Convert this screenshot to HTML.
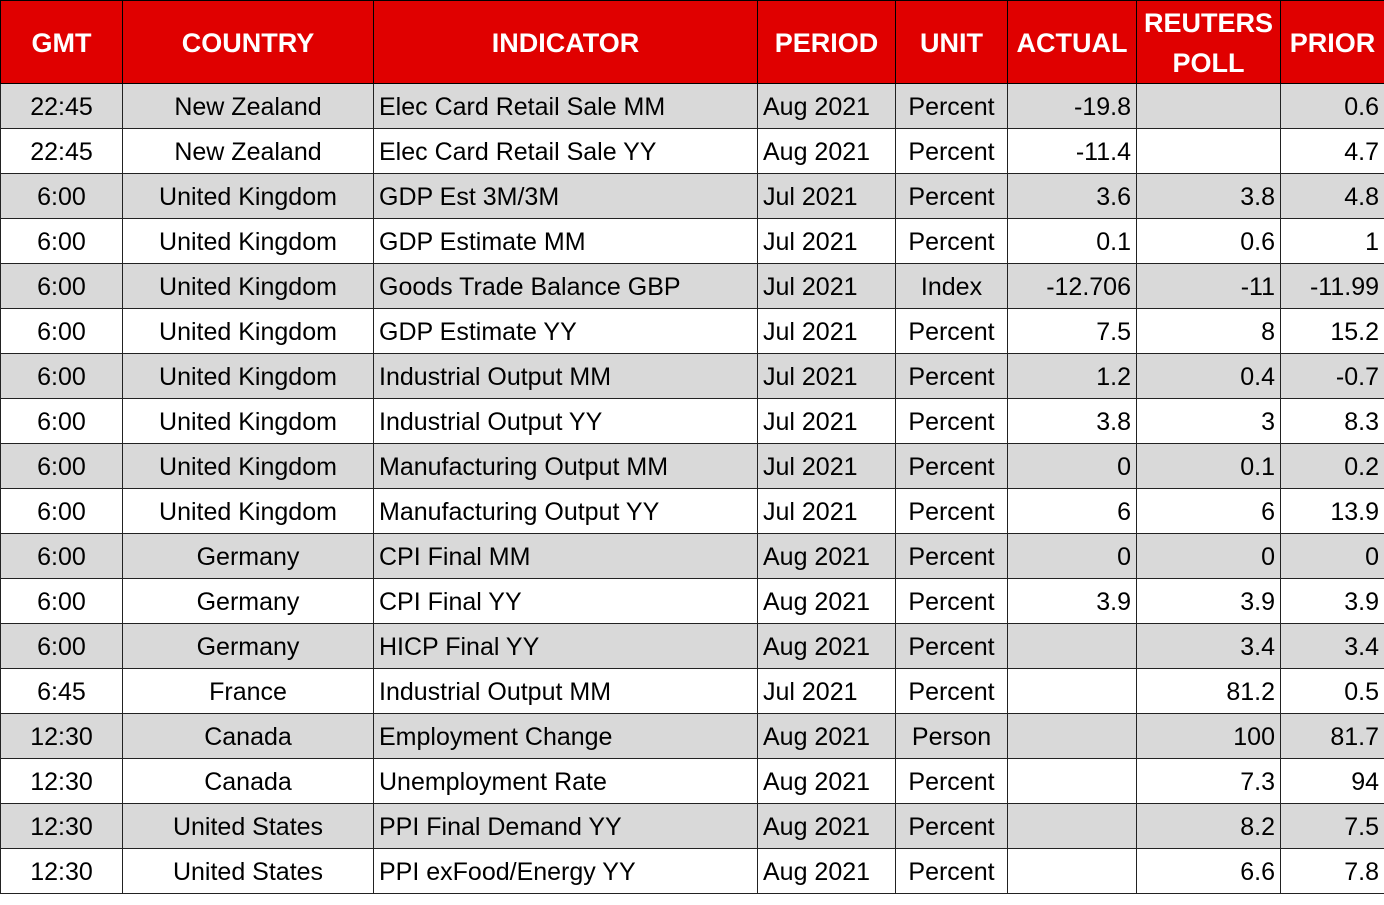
<!DOCTYPE html>
<html><head><meta charset="utf-8">
<style>
html,body{margin:0;padding:0;background:#fff;width:1384px;height:905px;overflow:hidden;}
table{border-collapse:collapse;table-layout:fixed;width:1384px;font-family:"Liberation Sans",sans-serif;}
th{background:#e00000;color:#fff;font-weight:bold;font-size:27px;height:75px;border:1px solid #000;padding:2px 4px 0 4px;line-height:40px;box-sizing:border-box;}
td{height:45px;border:1px solid #222;font-size:25px;color:#000;padding:3px 5px 0 5px;white-space:nowrap;overflow:hidden;box-sizing:border-box;}
tbody tr:nth-child(odd) td{background:#d9d9d9;}
.c{text-align:center}.l{text-align:left}.r{text-align:right}
</style></head><body>
<table>
<colgroup><col style="width:122px"><col style="width:251px"><col style="width:384px"><col style="width:138px"><col style="width:112px"><col style="width:129px"><col style="width:144px"><col style="width:104px"></colgroup>
<thead><tr style="height:77px">
<th>GMT</th>
<th>COUNTRY</th>
<th>INDICATOR</th>
<th>PERIOD</th>
<th>UNIT</th>
<th>ACTUAL</th>
<th>REUTERS POLL</th>
<th>PRIOR</th>
</tr></thead>
<tbody>
<tr><td class="c">22:45</td><td class="c">New Zealand</td><td class="l">Elec Card Retail Sale MM</td><td class="l">Aug 2021</td><td class="c">Percent</td><td class="r">-19.8</td><td class="r"></td><td class="r">0.6</td></tr>
<tr><td class="c">22:45</td><td class="c">New Zealand</td><td class="l">Elec Card Retail Sale YY</td><td class="l">Aug 2021</td><td class="c">Percent</td><td class="r">-11.4</td><td class="r"></td><td class="r">4.7</td></tr>
<tr><td class="c">6:00</td><td class="c">United Kingdom</td><td class="l">GDP Est 3M/3M</td><td class="l">Jul 2021</td><td class="c">Percent</td><td class="r">3.6</td><td class="r">3.8</td><td class="r">4.8</td></tr>
<tr><td class="c">6:00</td><td class="c">United Kingdom</td><td class="l">GDP Estimate MM</td><td class="l">Jul 2021</td><td class="c">Percent</td><td class="r">0.1</td><td class="r">0.6</td><td class="r">1</td></tr>
<tr><td class="c">6:00</td><td class="c">United Kingdom</td><td class="l">Goods Trade Balance GBP</td><td class="l">Jul 2021</td><td class="c">Index</td><td class="r">-12.706</td><td class="r">-11</td><td class="r">-11.99</td></tr>
<tr><td class="c">6:00</td><td class="c">United Kingdom</td><td class="l">GDP Estimate YY</td><td class="l">Jul 2021</td><td class="c">Percent</td><td class="r">7.5</td><td class="r">8</td><td class="r">15.2</td></tr>
<tr><td class="c">6:00</td><td class="c">United Kingdom</td><td class="l">Industrial Output MM</td><td class="l">Jul 2021</td><td class="c">Percent</td><td class="r">1.2</td><td class="r">0.4</td><td class="r">-0.7</td></tr>
<tr><td class="c">6:00</td><td class="c">United Kingdom</td><td class="l">Industrial Output YY</td><td class="l">Jul 2021</td><td class="c">Percent</td><td class="r">3.8</td><td class="r">3</td><td class="r">8.3</td></tr>
<tr><td class="c">6:00</td><td class="c">United Kingdom</td><td class="l">Manufacturing Output MM</td><td class="l">Jul 2021</td><td class="c">Percent</td><td class="r">0</td><td class="r">0.1</td><td class="r">0.2</td></tr>
<tr><td class="c">6:00</td><td class="c">United Kingdom</td><td class="l">Manufacturing Output YY</td><td class="l">Jul 2021</td><td class="c">Percent</td><td class="r">6</td><td class="r">6</td><td class="r">13.9</td></tr>
<tr><td class="c">6:00</td><td class="c">Germany</td><td class="l">CPI Final MM</td><td class="l">Aug 2021</td><td class="c">Percent</td><td class="r">0</td><td class="r">0</td><td class="r">0</td></tr>
<tr><td class="c">6:00</td><td class="c">Germany</td><td class="l">CPI Final YY</td><td class="l">Aug 2021</td><td class="c">Percent</td><td class="r">3.9</td><td class="r">3.9</td><td class="r">3.9</td></tr>
<tr><td class="c">6:00</td><td class="c">Germany</td><td class="l">HICP Final YY</td><td class="l">Aug 2021</td><td class="c">Percent</td><td class="r"></td><td class="r">3.4</td><td class="r">3.4</td></tr>
<tr><td class="c">6:45</td><td class="c">France</td><td class="l">Industrial Output MM</td><td class="l">Jul 2021</td><td class="c">Percent</td><td class="r"></td><td class="r">81.2</td><td class="r">0.5</td></tr>
<tr><td class="c">12:30</td><td class="c">Canada</td><td class="l">Employment Change</td><td class="l">Aug 2021</td><td class="c">Person</td><td class="r"></td><td class="r">100</td><td class="r">81.7</td></tr>
<tr><td class="c">12:30</td><td class="c">Canada</td><td class="l">Unemployment Rate</td><td class="l">Aug 2021</td><td class="c">Percent</td><td class="r"></td><td class="r">7.3</td><td class="r">94</td></tr>
<tr><td class="c">12:30</td><td class="c">United States</td><td class="l">PPI Final Demand YY</td><td class="l">Aug 2021</td><td class="c">Percent</td><td class="r"></td><td class="r">8.2</td><td class="r">7.5</td></tr>
<tr><td class="c">12:30</td><td class="c">United States</td><td class="l">PPI exFood/Energy YY</td><td class="l">Aug 2021</td><td class="c">Percent</td><td class="r"></td><td class="r">6.6</td><td class="r">7.8</td></tr>
</tbody></table>
</body></html>
